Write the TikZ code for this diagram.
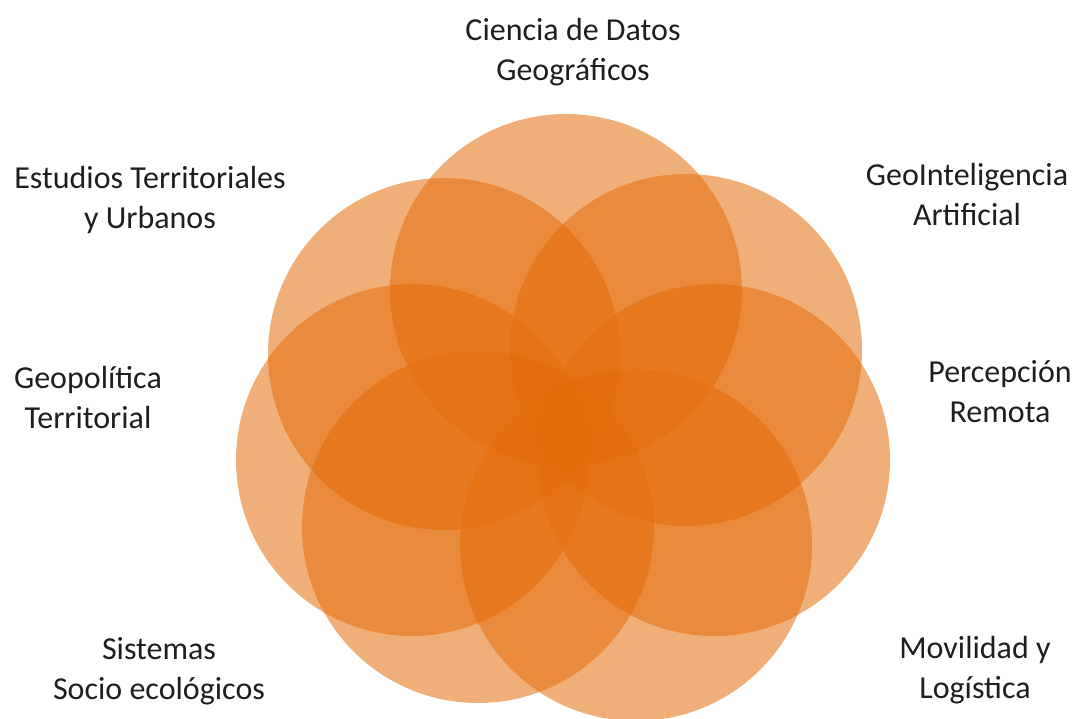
\documentclass[tikz,border=0pt]{standalone}
\usepackage{fontspec}
\setmainfont{Carlito}
\usepackage{tikz}
\definecolor{petalorange}{HTML}{E46C0A}
\definecolor{labelgray}{HTML}{1E1E1E}

\begin{document}
\begin{tikzpicture}[x=1pt,y=-1pt,
		petal/.style={circle,inner sep=0pt,minimum size=352pt,fill=petalorange,fill opacity=0.55,draw=none},
		lbl/.style={align=center,text=labelgray,font=\fontsize{32}{40}\selectfont}]
		\useasboundingbox (0,0) rectangle (1078,718);
		\begin{scope}
			\node[petal] (ctop) at (566,290) {};
			\node[petal] (cur) at (686,350) {};
			\node[petal] (cr) at (714,460) {};
			\node[petal] (clr) at (636,545) {};
			\node[petal] (cll) at (478,527) {};
			\node[petal] (cl) at (412,460) {};
			\node[petal] (cul) at (444,354) {};
		
			\node[lbl] (datos) at (573,52) {Ciencia de Datos\\Geográficos};
			\node[lbl] (estudios) at (150,200) {Estudios Territoriales\\y Urbanos};
			\node[lbl] (geoia) at (967,195) {GeoInteligencia\\Artificial};
			\node[lbl] (geopol) at (88,397) {Geopolítica\\Territorial};
			\node[lbl] (percep) at (1000,392) {Percepción\\Remota};
			\node[lbl] (sistemas) at (159,671) {Sistemas\\Socio ecológicos};
			\node[lbl] (movil) at (975,670) {Movilidad y\\Logística};
		\end{scope}
	\end{tikzpicture}
\end{document}
